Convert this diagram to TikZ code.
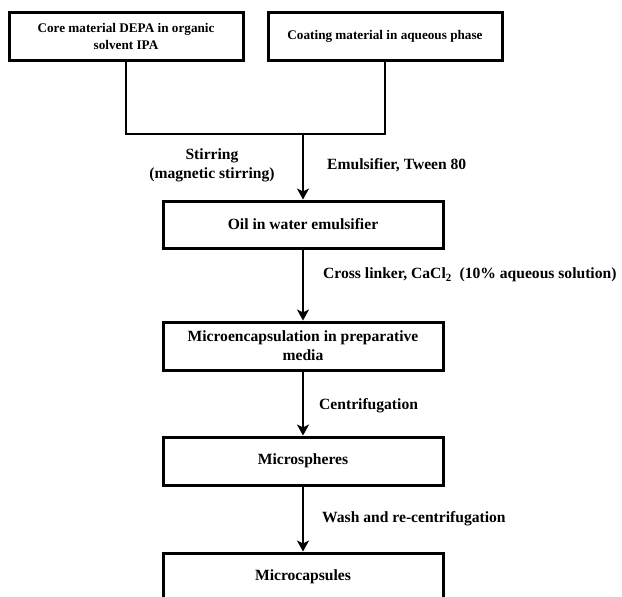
\documentclass[tikz,border=0pt]{standalone}
\usepackage{fontspec}
\setmainfont{Liberation Serif}
\usetikzlibrary{arrows.meta}
\begin{document}
\begin{tikzpicture}[x=1pt,y=-1pt,
  box/.style={draw=black,line width=3pt,fill=white,inner sep=0pt,align=center,font=\bfseries\fontsize{15.6}{19}\selectfont},
  topbox/.style={box,font=\bfseries\fontsize{13.2}{17}\selectfont},
  conn/.style={line width=2.6pt},
  arr/.style={conn,-{Stealth[length=11pt,width=12pt,inset=3pt]}},
  lbl/.style={font=\bfseries\fontsize{15.6}{19}\selectfont,inner sep=0pt,align=center}]
\clip (0,0) rectangle (622,597);
\fill[white] (0,0) rectangle (622,597);
\node[topbox,minimum width=234pt,minimum height=48pt] (core) at (126,36.5) {Core material DEPA in organic\\solvent IPA};
\node[topbox,minimum width=234pt,minimum height=48pt] (coat) at (385,36.5) {Coating material in aqueous phase};
\node[box,minimum width=280pt,minimum height=47pt] (oil) at (303,224.5) {Oil in water emulsifier};
\node[box,minimum width=280pt,minimum height=48pt] (micro) at (303,346) {Microencapsulation in preparative\\media};
\node[box,minimum width=280pt,minimum height=48pt] (sph) at (303,461) {Microspheres};
\node[box,minimum width=280pt,minimum height=48pt] (cap) at (303,577) {Microcapsules};
\coordinate (jl) at (core.south |- 0,134);
\coordinate (jr) at (coat.south |- 0,134);
\coordinate (jm) at (oil.north |- 0,134);
\draw[conn] (core.south) -- (jl) -- (jr) -- (coat.south);
\draw[arr] (jm) -- (oil.north);
\draw[arr] (oil.south) -- (micro.north);
\draw[arr] (micro.south) -- (sph.north);
\draw[arr] (sph.south) -- (cap.north);
\node[lbl] (stir) at (212,165.5) {Stirring\\(magnetic stirring)};
\node[lbl,anchor=west] (emu) at (327,165) {Emulsifier, Tween 80};
\node[lbl,anchor=west] (cross) at (323,275) {Cross linker, CaCl\textsubscript{2}\ \ (10\% aqueous solution)};
\node[lbl,anchor=west] (cent) at (319,406) {Centrifugation};
\node[lbl,anchor=west] (wash) at (322,519) {Wash and re-centrifugation};
\end{tikzpicture}
\end{document}
